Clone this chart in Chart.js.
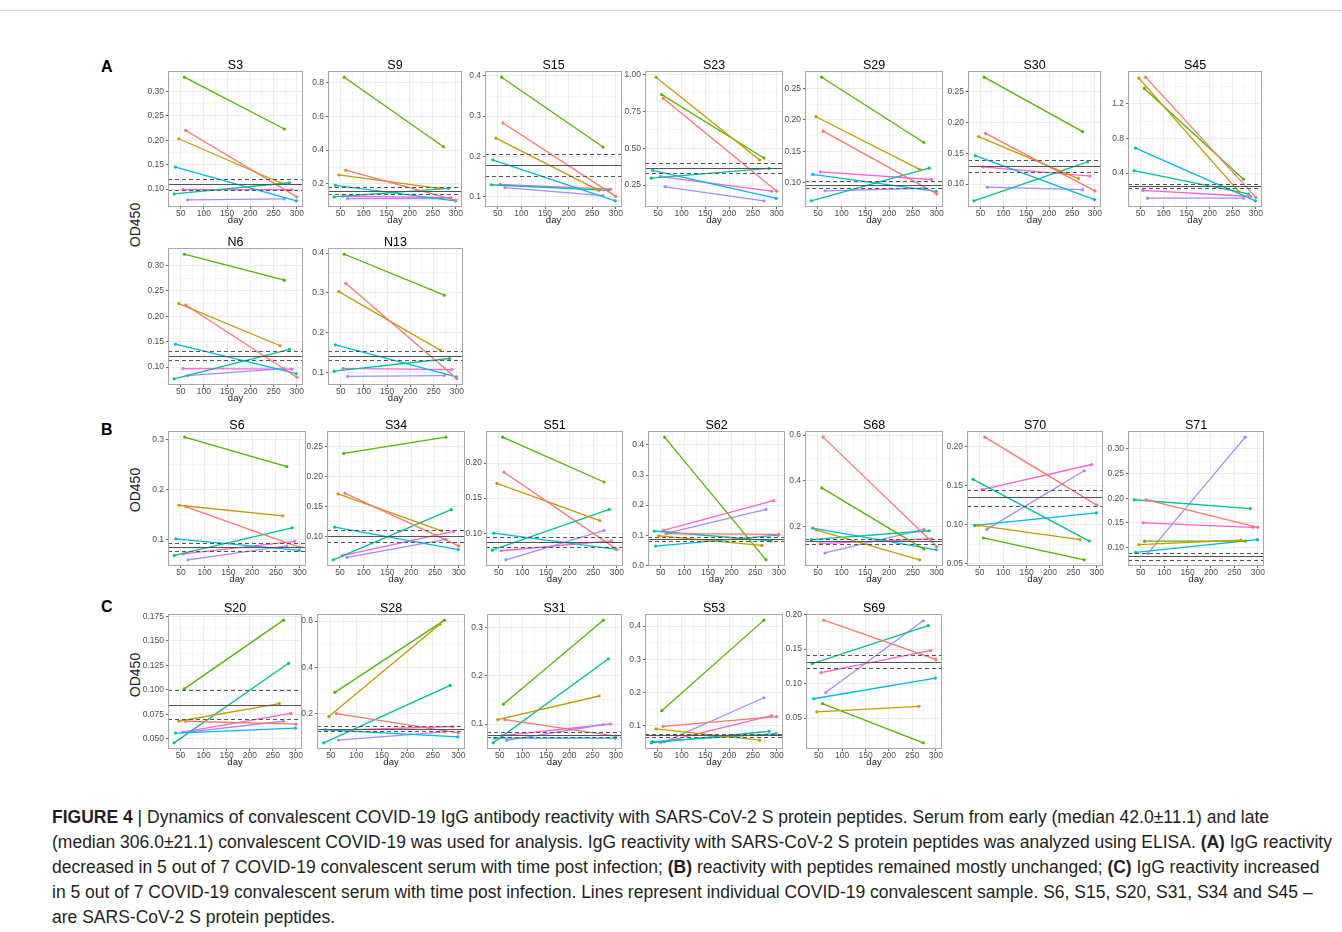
<!DOCTYPE html>
<html lang="pt">
<head>
<meta charset="UTF-8">
<title>Figure 4</title>
<script src="https://cdn.jsdelivr.net/npm/chart.js"></script>
<style>
    body { margin: 0; background: #fff; font-family: "Liberation Sans", Arial, sans-serif; }
    #pagina { position: relative; width: 1342px; height: 932px; overflow: hidden; }
    .topo { position: absolute; left: 0; top: 10px; width: 1342px; height: 1px; background: #d4d4d4; }
    .painel { position: absolute; }
    .letra { position: absolute; font-weight: bold; font-size: 16px; color: #000; }
    .eixoY { position: absolute; width: 60px; height: 16px; line-height: 16px; text-align: center;
             font-size: 14px; color: #222; transform: rotate(-90deg); white-space: nowrap; }
    .legenda { position: absolute; left: 52px; top: 805px; font-size: 17.5px; line-height: 25px;
               color: #231f20; white-space: nowrap; }
</style>
</head>
<body>
<div id="pagina">
    <div class="topo"></div>
    <div class="letra" style="left:101px; top:58px;">A</div>
    <div class="letra" style="left:101px; top:421px;">B</div>
    <div class="letra" style="left:101px; top:598px;">C</div>
    <div class="eixoY" style="left:105px; top:217px;">OD450</div>
    <div class="eixoY" style="left:105px; top:482px;">OD450</div>
    <div class="eixoY" style="left:105px; top:667px;">OD450</div>

    <div class="legenda">
        <b>FIGURE 4</b> | Dynamics of convalescent COVID-19 IgG antibody reactivity with SARS-CoV-2 S protein peptides. Serum from early (median 42.0±11.1) and late<br>
        (median 306.0±21.1) convalescent COVID-19 was used for analysis. IgG reactivity with SARS-CoV-2 S protein peptides was analyzed using ELISA. <b>(A)</b> IgG reactivity<br>
        decreased in 5 out of 7 COVID-19 convalescent serum with time post infection; <b>(B)</b> reactivity with peptides remained mostly unchanged; <b>(C)</b> IgG reactivity increased<br>
        in 5 out of 7 COVID-19 convalescent serum with time post infection. Lines represent individual COVID-19 convalescent sample. S6, S15, S20, S31, S34 and S45 –<br>
        are SARS-CoV-2 S protein peptides.
    </div>
</div>

<script>
    // peptideos, na ordem dos paineis
    const paineis = ['S3', 'S9', 'S15', 'S23', 'S29', 'S30', 'S45', 'N6', 'N13',
        'S6', 'S34', 'S51', 'S62', 'S68', 'S70', 'S71',
        'S20', 'S28', 'S31', 'S53', 'S69'];

    // amostras: vermelho, dourado, verde, turquesa, azul, roxo, rosa
    const cores = ['#F8766D', '#C49A00', '#53B400', '#00C094', '#00B6EB', '#A58AFF', '#FB61D7'];
    const diaInicial = [61, 46, 58, 36, 39, 65, 55];
    const diaFinal = [300, 264, 273, 284, 299, 273, 289];

    // OD450 no dia inicial e no dia final (uma linha por painel, uma coluna por amostra)
    const odInicial = [
        [0.220, 0.203, 0.329, 0.090, 0.145, 0.078, 0.099],
        [0.281, 0.253, 0.832, 0.123, 0.192, 0.113, 0.127],
        [0.283, 0.245, 0.397, 0.129, 0.191, 0.122, 0.130],
        [0.837, 0.980, 0.862, 0.297, 0.350, 0.239, 0.307],
        [0.182, 0.205, 0.268, 0.071, 0.113, 0.087, 0.117],
        [0.182, 0.177, 0.273, 0.073, 0.146, 0.095, 0.128],
        [1.51, 1.50, 1.38, 0.43, 0.69, 0.11, 0.20],
        [0.222, 0.225, 0.322, 0.077, 0.145, 0.083, 0.097],
        [0.324, 0.303, 0.397, 0.103, 0.169, 0.090, 0.110],
        [0.166, 0.169, 0.305, 0.069, 0.102, 0.060, 0.072],
        [0.172, 0.171, 0.238, 0.062, 0.116, 0.066, 0.069],
        [0.187, 0.171, 0.237, 0.076, 0.100, 0.062, 0.075],
        [0.105, 0.098, 0.426, 0.114, 0.064, 0.108, 0.116],
        [0.591, 0.187, 0.370, 0.144, 0.194, 0.086, 0.127],
        [0.212, 0.099, 0.083, 0.158, 0.099, 0.094, 0.145],
        [0.197, 0.106, 0.113, 0.197, 0.090, 0.088, 0.150],
        [0.068, 0.068, 0.101, 0.046, 0.056, 0.057, 0.057],
        [0.199, 0.186, 0.291, 0.072, 0.128, 0.084, 0.126],
        [0.109, 0.109, 0.141, 0.061, 0.071, 0.066, 0.076],
        [0.098, 0.090, 0.145, 0.048, 0.052, 0.052, 0.048],
        [0.192, 0.059, 0.071, 0.129, 0.078, 0.087, 0.116]
    ];
    const odFinal = [
        [0.084, 0.113, 0.223, 0.113, 0.076, 0.080, 0.099],
        [0.103, 0.174, 0.420, 0.174, 0.100, 0.113, 0.119],
        [0.100, 0.115, 0.223, 0.115, 0.089, 0.102, 0.118],
        [0.209, 0.420, 0.434, 0.363, 0.160, 0.144, 0.209],
        [0.082, 0.121, 0.164, 0.123, 0.086, 0.091, 0.105],
        [0.089, 0.109, 0.185, 0.136, 0.075, 0.091, 0.113],
        [0.12, 0.18, 0.33, 0.16, 0.08, 0.11, 0.13],
        [0.080, 0.142, 0.271, 0.135, 0.087, 0.097, 0.096],
        [0.084, 0.156, 0.294, 0.135, 0.089, 0.092, 0.107],
        [0.085, 0.148, 0.246, 0.124, 0.079, 0.088, 0.097],
        [0.085, 0.110, 0.265, 0.145, 0.079, 0.096, 0.109],
        [0.077, 0.118, 0.173, 0.134, 0.077, 0.104, 0.089],
        [0.103, 0.066, 0.018, 0.081, 0.100, 0.186, 0.215],
        [0.114, 0.056, 0.103, 0.183, 0.100, 0.189, 0.148],
        [0.125, 0.081, 0.055, 0.079, 0.115, 0.169, 0.177],
        [0.141, 0.115, 0.113, 0.179, 0.116, 0.324, 0.141],
        [0.065, 0.086, 0.171, 0.127, 0.061, 0.068, 0.076],
        [0.115, 0.586, 0.604, 0.321, 0.098, 0.120, 0.143],
        [0.075, 0.158, 0.315, 0.235, 0.071, 0.099, 0.100],
        [0.127, 0.056, 0.418, 0.083, 0.076, 0.184, 0.130],
        [0.135, 0.067, 0.014, 0.184, 0.108, 0.191, 0.148]
    ];

    // linhas de referencia (media e limites tracejados)
    const media = [0.110, 0.160, 0.178, 0.363, 0.097, 0.129, 0.255, 0.122, 0.142,
        0.085, 0.101, 0.088, 0.088, 0.139, 0.135, 0.082,
        0.085, 0.134, 0.078, 0.071, 0.132];
    const limiteSup = [0.121, 0.180, 0.206, 0.400, 0.103, 0.139, 0.280, 0.131, 0.153,
        0.093, 0.111, 0.094, 0.094, 0.147, 0.145, 0.089,
        0.100, 0.146, 0.084, 0.076, 0.142];
    const limiteInf = [0.099, 0.141, 0.151, 0.330, 0.092, 0.120, 0.230, 0.113, 0.131,
        0.077, 0.091, 0.081, 0.081, 0.127, 0.124, 0.075,
        0.070, 0.125, 0.073, 0.066, 0.122];

    // marcas dos eixos
    const ticksX = [50, 100, 150, 200, 250, 300];
    const ticksY = [
        [0.10, 0.15, 0.20, 0.25, 0.30],
        [0.2, 0.4, 0.6, 0.8],
        [0.1, 0.2, 0.3, 0.4],
        [0.25, 0.50, 0.75, 1.00],
        [0.10, 0.15, 0.20, 0.25],
        [0.10, 0.15, 0.20, 0.25],
        [0.4, 0.8, 1.2],
        [0.10, 0.15, 0.20, 0.25, 0.30],
        [0.1, 0.2, 0.3, 0.4],
        [0.1, 0.2, 0.3],
        [0.10, 0.15, 0.20, 0.25],
        [0.10, 0.15, 0.20],
        [0.0, 0.1, 0.2, 0.3, 0.4],
        [0.2, 0.4, 0.6],
        [0.05, 0.10, 0.15, 0.20],
        [0.10, 0.15, 0.20, 0.25, 0.30],
        [0.050, 0.075, 0.100, 0.125, 0.150, 0.175],
        [0.2, 0.4, 0.6],
        [0.1, 0.2, 0.3],
        [0.1, 0.2, 0.3, 0.4],
        [0.05, 0.10, 0.15, 0.20]
    ];

    // area de plotagem de cada painel na pagina: [esquerda, topo, direita, base]
    const caixas = [
        [168, 71, 303, 207], [328, 71, 462, 207], [485, 71, 622, 207], [645, 71, 783, 207],
        [805, 71, 943, 207], [968, 71, 1101, 207], [1128, 71, 1262, 207],
        [168, 248, 303, 385], [328, 248, 463, 385],
        [168, 431, 306, 566], [327, 431, 465, 566], [486, 431, 623, 566], [648, 431, 785, 566],
        [805, 431, 943, 566], [967, 431, 1103, 566], [1128, 431, 1264, 566],
        [168, 614, 302, 749], [317, 614, 465, 749], [487, 614, 622, 749], [645, 614, 783, 749],
        [806, 614, 942, 749]
    ];

    const fonte = '"Liberation Sans", Arial, sans-serif';
    const ESQ = 45, TOPO = 20, BASE = 24, DIR = 10;

    function casasDecimais(lista) {
        let d = 1;
        lista.forEach(v => {
            while (Math.abs(Math.round(v * 10 ** d) - v * 10 ** d) > 1e-6) d++;
        });
        return d;
    }

    // marcas principais + secundarias (meio caminho), como no ggplot
    function comSecundarias(maiores, min, max) {
        const passo = maiores[1] - maiores[0];
        const todos = [];
        if (maiores[0] - passo / 2 >= min) todos.push(maiores[0] - passo / 2);
        maiores.forEach((v, i) => {
            todos.push(v);
            if (i < maiores.length - 1) todos.push(v + passo / 2);
        });
        const fim = maiores[maiores.length - 1] + passo / 2;
        if (fim <= max) todos.push(fim);
        return todos.filter(v => v >= min - 1e-9 && v <= max + 1e-9);
    }

    const ehPrincipal = (v, maiores) => maiores.some(m => Math.abs(m - v) < 1e-9);

    // borda do painel e titulo centrado na area de plotagem
    const moldura = {
        id: 'moldura',
        afterDraw(chart, args, opts) {
            const { ctx, chartArea: a } = chart;
            ctx.save();
            ctx.strokeStyle = '#a9a9a9';
            ctx.lineWidth = 1;
            ctx.strokeRect(a.left + 0.5, a.top + 0.5, a.width - 1, a.height - 1);
            ctx.fillStyle = '#000';
            ctx.font = '12.5px ' + fonte;
            ctx.textAlign = 'center';
            ctx.textBaseline = 'middle';
            ctx.fillText(opts.texto, (a.left + a.right) / 2, a.top - 5.5);
            ctx.restore();
        }
    };

    // dominio x comum
    const diasTodos = diaInicial.concat(diaFinal);
    const xLo = Math.min(...diasTodos), xHi = Math.max(...diasTodos);
    const xMin = xLo - (xHi - xLo) * 0.05, xMax = xHi + (xHi - xLo) * 0.05;

    paineis.forEach((nome, p) => {
        const [l, t, r, b] = caixas[p];
        const canvas = document.createElement('canvas');
        const larg = r - l + ESQ + DIR, alt = b - t + TOPO + BASE;
        canvas.width = larg;
        canvas.height = alt;
        canvas.className = 'painel';
        canvas.style.left = (l - ESQ) + 'px';
        canvas.style.top = (t - TOPO) + 'px';
        canvas.style.width = larg + 'px';
        canvas.style.height = alt + 'px';
        document.getElementById('pagina').appendChild(canvas);

        const valores = odInicial[p].concat(odFinal[p], [media[p], limiteSup[p], limiteInf[p]]);
        const lo = Math.min(...valores), hi = Math.max(...valores);
        const yMin = lo - (hi - lo) * 0.05, yMax = hi + (hi - lo) * 0.05;
        const marcasY = ticksY[p];
        const dec = casasDecimais(marcasY);

        const linhasRef = {
            id: 'linhasRef',
            afterDatasetsDraw(chart) {
                const { ctx, chartArea: a, scales: { y } } = chart;
                const tracar = (v, tracejado, larguraLinha) => {
                    const py = Math.round(y.getPixelForValue(v)) + 0.5;
                    ctx.beginPath();
                    ctx.setLineDash(tracejado);
                    ctx.lineWidth = larguraLinha;
                    ctx.moveTo(a.left, py);
                    ctx.lineTo(a.right, py);
                    ctx.stroke();
                };
                ctx.save();
                ctx.strokeStyle = '#555';
                tracar(media[p], [], 1.2);
                tracar(limiteSup[p], [4, 3], 1);
                tracar(limiteInf[p], [4, 3], 1);
                ctx.restore();
            }
        };

        new Chart(canvas, {
            type: 'scatter',
            data: {
                datasets: cores.map((cor, s) => ({
                    data: [{ x: diaInicial[s], y: odInicial[p][s] }, { x: diaFinal[s], y: odFinal[p][s] }],
                    showLine: true,
                    borderColor: cor,
                    backgroundColor: cor,
                    borderWidth: 1.3,
                    pointRadius: 1.6,
                    pointHoverRadius: 1.6,
                    pointBorderWidth: 0
                }))
            },
            options: {
                responsive: false,
                animation: false,
                devicePixelRatio: 1,
                layout: { padding: { left: 0, right: DIR, top: TOPO, bottom: 0 } },
                plugins: {
                    legend: { display: false },
                    tooltip: { enabled: false },
                    title: { display: false },
                    moldura: { texto: nome }
                },
                scales: {
                    x: {
                        type: 'linear', min: xMin, max: xMax,
                        afterBuildTicks: s => { s.ticks = comSecundarias(ticksX, xMin, xMax).map(v => ({ value: v })); },
                        afterFit: s => { s.height = BASE; },
                        ticks: {
                            autoSkip: false, maxRotation: 0, padding: 0, color: '#4d4d4d',
                            font: { family: fonte, size: 8.5 },
                            callback: v => ehPrincipal(v, ticksX) ? String(v) : ''
                        },
                        grid: {
                            color: c => ehPrincipal(c.tick.value, ticksX) ? '#ebebeb' : '#f6f6f6',
                            tickColor: c => ehPrincipal(c.tick.value, ticksX) ? '#666' : 'rgba(0,0,0,0)',
                            tickLength: 2, lineWidth: 1
                        },
                        border: { display: false },
                        title: {
                            display: true, text: 'day', color: '#222',
                            font: { family: fonte, size: 9.5, lineHeight: 1 },
                            padding: { top: 0, bottom: 6 }
                        }
                    },
                    y: {
                        type: 'linear', min: yMin, max: yMax,
                        afterBuildTicks: s => { s.ticks = comSecundarias(marcasY, yMin, yMax).map(v => ({ value: v })); },
                        afterFit: s => { s.width = ESQ; },
                        ticks: {
                            autoSkip: false, padding: 2, color: '#4d4d4d',
                            font: { family: fonte, size: 8.5 },
                            callback: v => ehPrincipal(v, marcasY) ? v.toFixed(dec) : ''
                        },
                        grid: {
                            color: c => ehPrincipal(c.tick.value, marcasY) ? '#ebebeb' : '#f6f6f6',
                            tickColor: c => ehPrincipal(c.tick.value, marcasY) ? '#666' : 'rgba(0,0,0,0)',
                            tickLength: 2, lineWidth: 1
                        },
                        border: { display: false }
                    }
                }
            },
            plugins: [linhasRef, moldura]
        });
    });
</script>
</body>
</html>
